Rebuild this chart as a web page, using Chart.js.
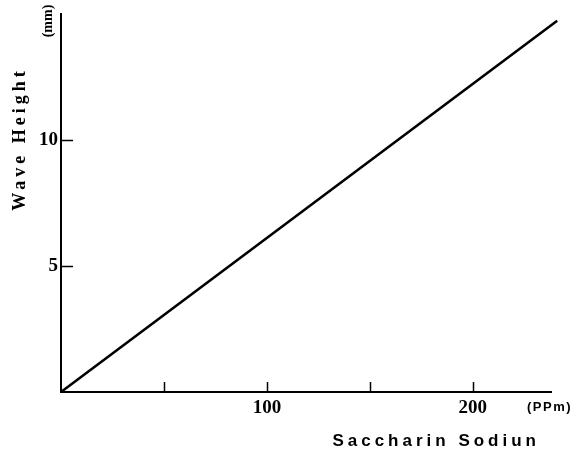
<!DOCTYPE html>
<html><head><meta charset="utf-8">
<script src="https://cdn.jsdelivr.net/npm/chart.js@4.4.1/dist/chart.umd.min.js"></script>
<style>html,body{margin:0;padding:0;background:#fff}#wrap{width:586px;height:452px}</style>
</head><body><div id="wrap"><canvas id="c" width="586" height="452"></canvas></div>
<script>
const concentrationPpm = [0, 241];
const waveHeightMm = [0, 14.75];
const xTickValues = [50, 100, 150, 200];
const xTickLabels = {100: '100', 200: '200'};
const yTickValues = [5, 10];
const xTitle = 'Saccharin Sodiun';
const xUnit = '(PPm)';
const yTitle = 'Wave Height';
const yUnit = '(mm)';

const points = concentrationPpm.map((x, i) => ({x, y: waveHeightMm[i]}));
const serif = '"Liberation Serif", "DejaVu Serif", serif';

const decor = {
  id: 'decor',
  afterDraw(chart) {
    const ctx = chart.ctx, xs = chart.scales.x, ys = chart.scales.y;
    const a = chart.chartArea;
    ctx.save();
    ctx.strokeStyle = '#000';
    ctx.lineWidth = 1.5;
    xs.ticks.forEach(t => {
      const px = Math.round(xs.getPixelForValue(t.value)) + 0.5;
      ctx.beginPath(); ctx.moveTo(px, a.bottom); ctx.lineTo(px, a.bottom - 10); ctx.stroke();
    });
    ys.ticks.forEach(t => {
      const py = Math.round(ys.getPixelForValue(t.value)) + 0.5;
      ctx.beginPath(); ctx.moveTo(a.left, py); ctx.lineTo(a.left + 12, py); ctx.stroke();
    });
    ctx.fillStyle = '#000';
    ctx.save();
    ctx.translate(20, 139);
    ctx.rotate(-Math.PI / 2);
    ctx.font = 'bold 18px ' + serif;
    ctx.letterSpacing = '4px';
    ctx.textAlign = 'center'; ctx.textBaseline = 'middle';
    ctx.fillText(yTitle, 0, 0);
    ctx.restore();
    ctx.save();
    ctx.translate(48, 21);
    ctx.rotate(-Math.PI / 2);
    ctx.font = 'bold 14px ' + serif;
    ctx.textAlign = 'center'; ctx.textBaseline = 'middle';
    ctx.fillText(yUnit, 0, 0);
    ctx.restore();
    ctx.font = 'bold 13px "Liberation Sans", Arial, sans-serif';
    ctx.letterSpacing = '1.5px';
    ctx.textAlign = 'left'; ctx.textBaseline = 'middle';
    ctx.fillText(xUnit, 527, 407);
    ctx.font = 'bold 17px "Liberation Sans", Arial, sans-serif';
    ctx.letterSpacing = '4px';
    ctx.textAlign = 'right';
    ctx.fillText(xTitle, 540, 441);
    ctx.restore();
  }
};

new Chart(document.getElementById('c'), {
  type: 'scatter',
  data: { datasets: [{
    data: points, showLine: true, borderColor: '#000', borderWidth: 2.6,
    pointRadius: 0, clip: false, tension: 0
  }]},
  options: {
    responsive: false, animation: false,
    layout: { padding: { top: 10, right: 35, left: 0, bottom: 0 } },
    plugins: { legend: { display: false }, tooltip: { enabled: false } },
    scales: {
      x: {
        type: 'linear', min: 0, max: 238,
        afterBuildTicks: s => { s.ticks = xTickValues.map(v => ({value: v})); },
        afterFit: s => { s.height = 60; },
        grid: { display: false, drawTicks: false },
        border: { display: true, color: '#000', width: 2 },
        ticks: { padding: 5, color: '#000', maxRotation: 0, autoSkip: false,
          font: { family: serif, size: 19, weight: 'bold' },
          callback: v => xTickLabels[v] || '' }
      },
      y: {
        type: 'linear', min: 0, max: 15,
        afterBuildTicks: s => { s.ticks = yTickValues.map(v => ({value: v})); },
        afterFit: s => { s.width = 61; },
        grid: { display: false, drawTicks: false },
        border: { display: true, color: '#000', width: 2 },
        ticks: { padding: 3, color: '#000', autoSkip: false,
          font: { family: serif, size: 19, weight: 'bold' } }
      }
    }
  },
  plugins: [decor]
});
</script></body></html>
